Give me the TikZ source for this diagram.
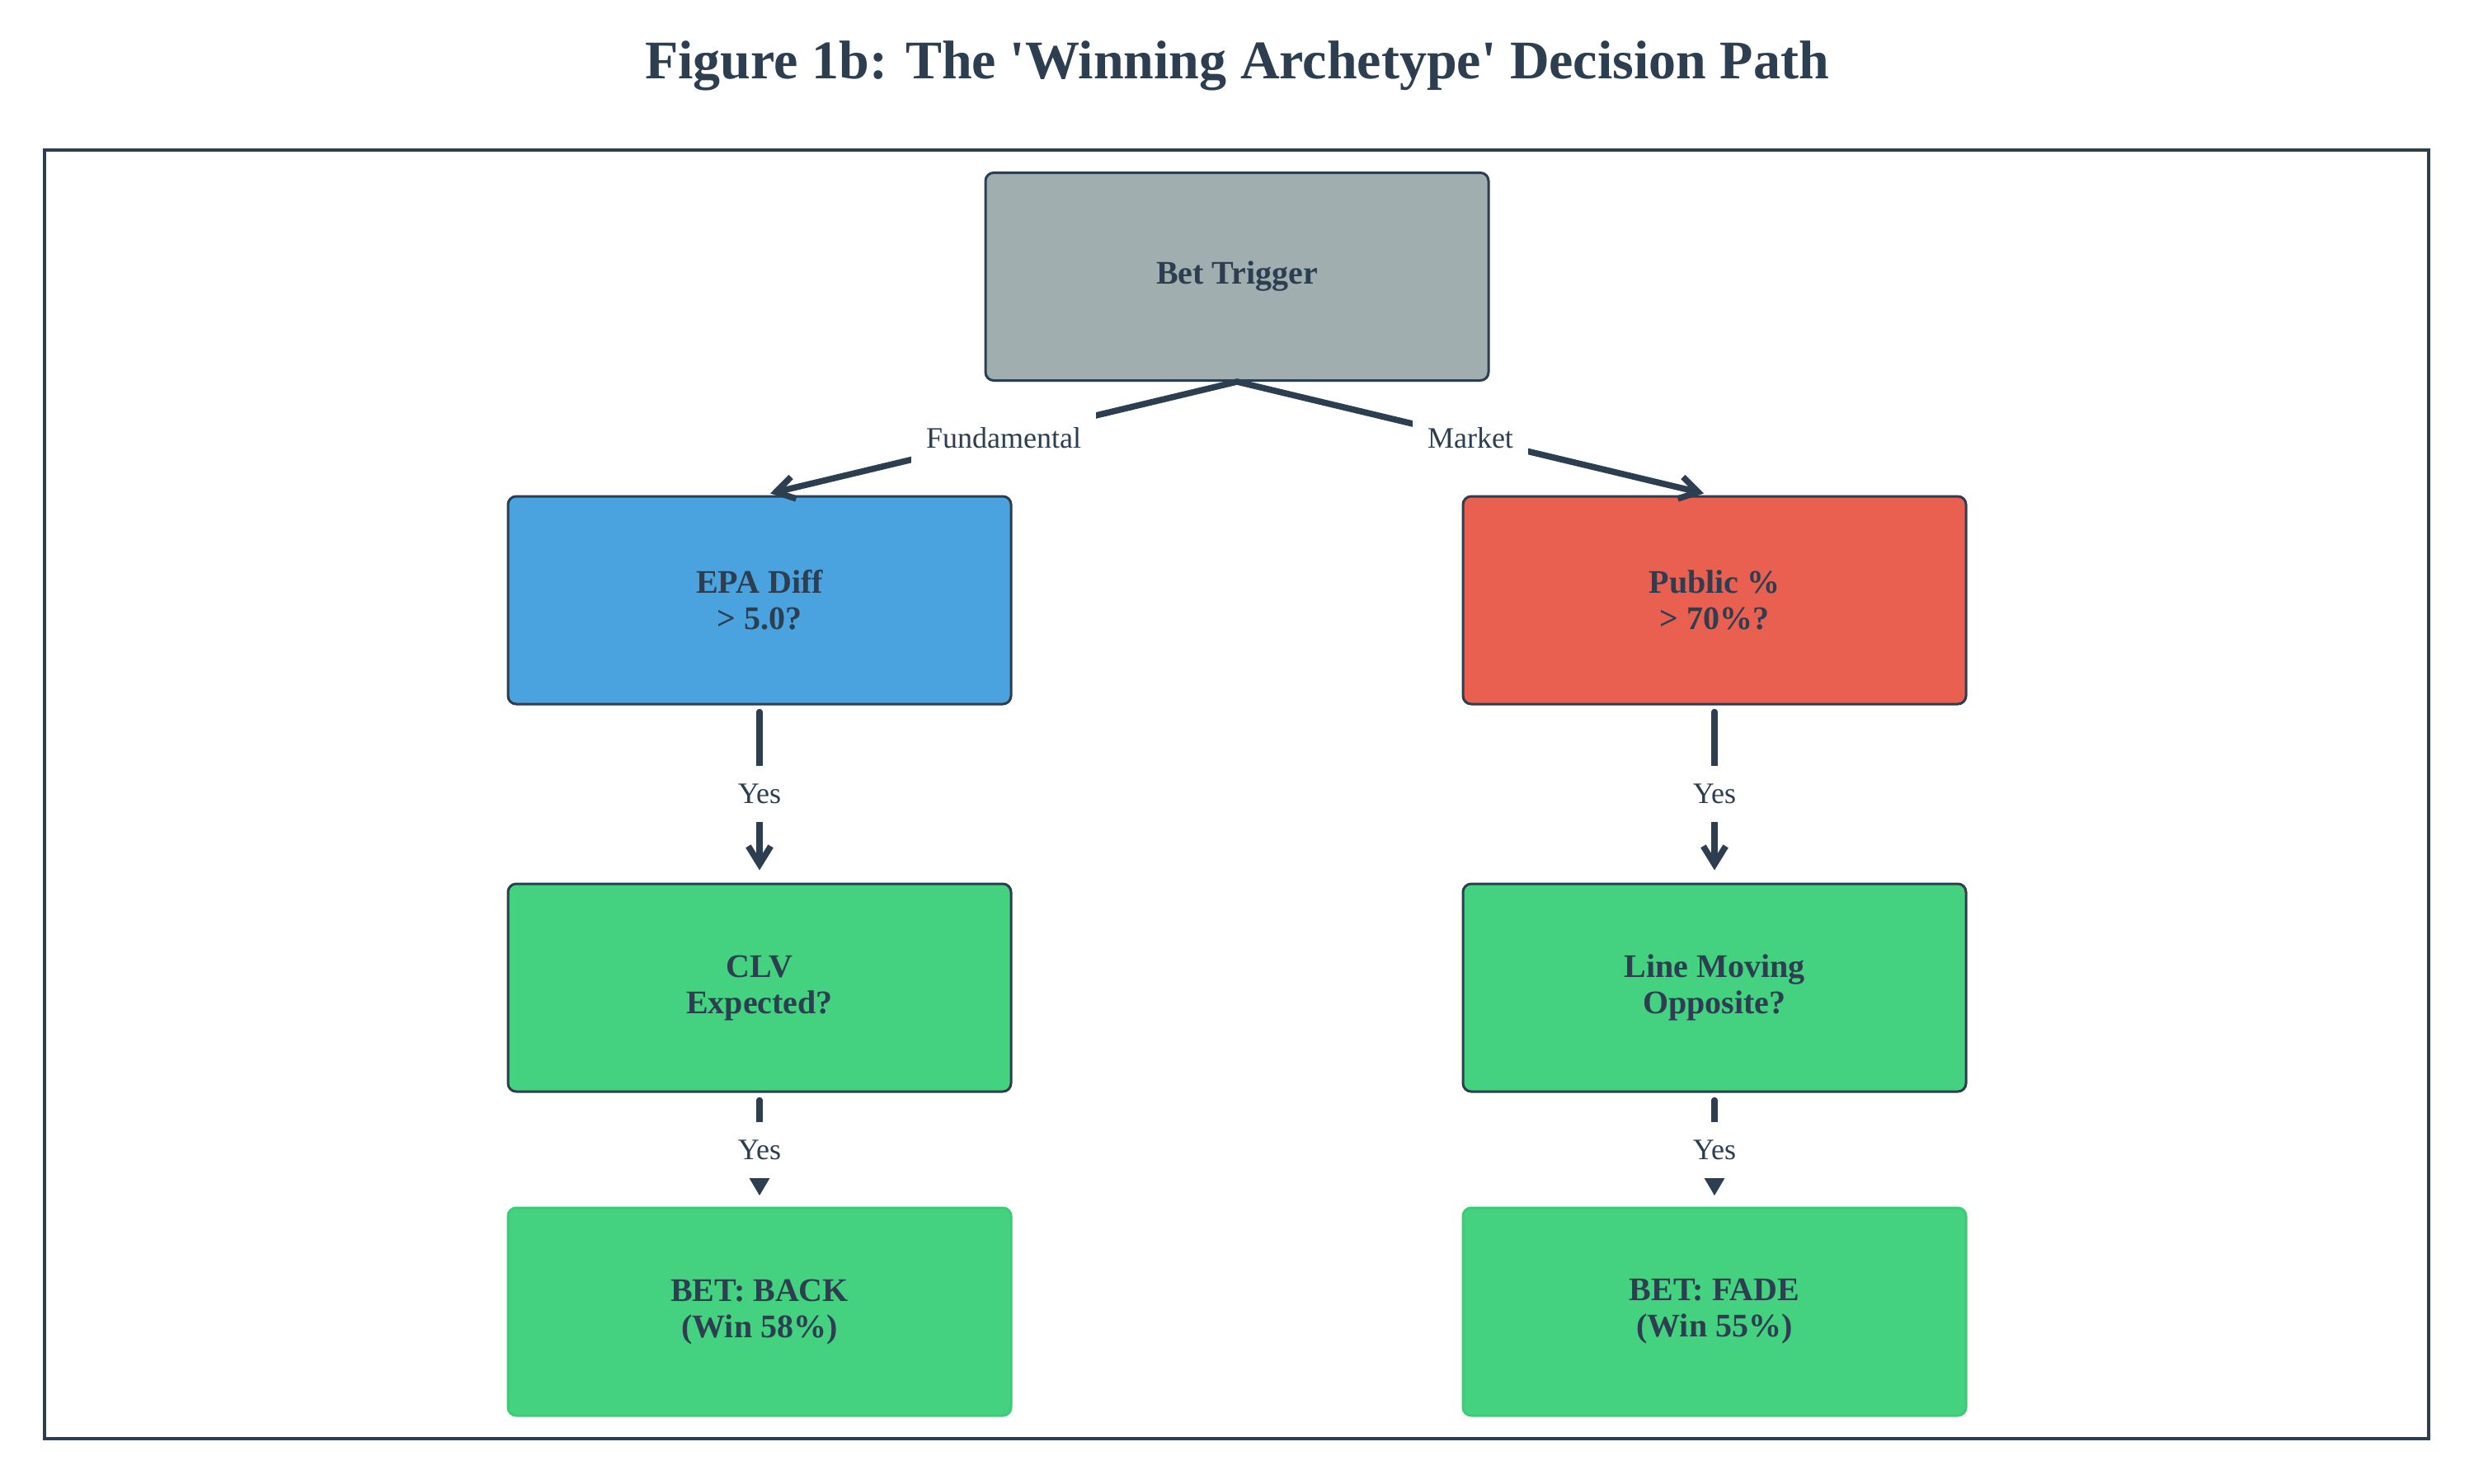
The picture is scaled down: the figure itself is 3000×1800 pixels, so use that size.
\documentclass[tikz,border=0pt]{standalone}
\usepackage{fontspec}
\setmainfont{Liberation Serif}
\usetikzlibrary{arrows.meta}
\definecolor{ink}{RGB}{44,62,80}
\definecolor{grayfill}{RGB}{160,174,175}
\definecolor{bluefill}{RGB}{74,162,222}
\definecolor{redfill}{RGB}{233,95,80}
\definecolor{greenfill}{RGB}{68,209,128}
\definecolor{greenedge}{RGB}{58,204,118}
\begin{document}
\begin{tikzpicture}[x=0.25pt,y=-0.25pt,
  box/.style={draw=ink, line width=0.75pt, rounded corners=2.5pt,
    minimum width=152.5pt, minimum height=63pt, inner sep=0pt,
    align=center, text=ink, font=\fontsize{10}{11}\selectfont\bfseries},
  conn/.style={draw=ink, line width=1.875pt, line cap=round},
  openhead/.style={-{Straight Barb[length=5.5pt,width=6.8pt]}},
  filledhead/.style={-{Triangle[length=7pt,width=7.6pt]}},
  lbl/.style={fill=white, text=ink, font=\fontsize{9}{10}\selectfont,
    inner xsep=4.5pt, inner ysep=0pt, minimum height=17pt}]
\fill[white] (0,0) rectangle (3000,1800);
\path[use as bounding box] (0,0) rectangle (3000,1800);
\node[anchor=base, text=ink, font=\fontsize{16.5}{20}\selectfont\bfseries] (title) at (1500,95)
  {Figure 1b: The \textquotesingle Winning Archetype\textquotesingle{} Decision Path};
\draw[ink, line width=1pt] (54,182) rectangle (2945,1745);

\node[box, fill=grayfill] (trig) at (1500,335.5) {Bet Trigger};
\node[box, fill=bluefill] (epa) at (921,728) {EPA Diff\\> 5.0?};
\node[box, fill=redfill] (pub) at (2079,728) {Public \%\\> 70\%?};
\node[box, fill=greenfill] (clv) at (921,1198) {CLV\\Expected?};
\node[box, fill=greenfill] (line) at (2079,1198) {Line Moving\\Opposite?};
\node[box, fill=greenfill, draw=greenedge] (back) at (921,1591) {BET: BACK\\(Win 58\%)};
\node[box, fill=greenfill, draw=greenedge] (fade) at (2079,1591) {BET: FADE\\(Win 55\%)};

\draw[conn, openhead] (trig.south) -- node[lbl] {Fundamental} ([xshift=3.25pt,yshift=0.5pt]epa.north);
\draw[conn, openhead] (trig.south) -- node[lbl] {Market} ([xshift=-3.25pt,yshift=0.5pt]pub.north);

\draw[conn, openhead, shorten <=2pt, shorten >=3.75pt] (epa.south) -- node[lbl] {Yes} (clv.north);
\draw[conn, openhead, shorten <=2pt, shorten >=3.75pt] (pub.south) -- node[lbl] {Yes} (line.north);
\draw[conn, filledhead, shorten <=2.25pt, shorten >=3.25pt] (clv.south) -- node[lbl] {Yes} (back.north);
\draw[conn, filledhead, shorten <=2.25pt, shorten >=3.25pt] (line.south) -- node[lbl] {Yes} (fade.north);
\end{tikzpicture}
\end{document}
